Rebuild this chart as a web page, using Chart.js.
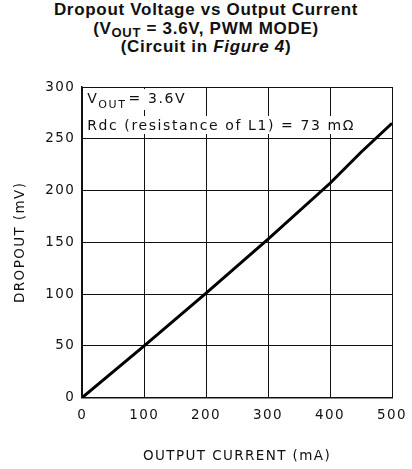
<!DOCTYPE html>
<html>
<head>
    <title>Dropout Voltage vs Output Current</title>
    <script src="https://cdn.jsdelivr.net/npm/chart.js"></script>
    <style>
        body {
            margin: 0;
            background: white;
        }
        .wrap {
            position: relative;
            width: 412px;
            height: 469px;
        }
        .title {
            position: absolute;
            left: 0;
            top: 1px;
            width: 412px;
            text-align: center;
            font-family: "Liberation Sans", Arial, sans-serif;
            font-weight: bold;
            font-size: 17px;
            letter-spacing: 0.7px;
            line-height: 18.5px;
            color: #111;
        }
        .title sub {
            font-size: 13px;
            vertical-align: -3px;
            line-height: 0;
        }
        canvas {
            position: absolute;
            left: 0;
            top: 0;
        }
    </style>
</head>
<body>
    <div class="wrap">
        <div class="title">
            Dropout Voltage vs Output Current<br>
            (V<sub>OUT</sub> = 3.6V, PWM MODE)<br>
            (Circuit in <i>Figure 4</i>)
        </div>
        <canvas id="dropChart" width="412" height="469"></canvas>
    </div>

    <script>
        // values
        const currentMA = [0, 100, 200, 300, 400, 450, 500];
        const dropoutMV = [0, 50, 101, 153, 207, 237, 265];
        const xTicks = [0, 100, 200, 300, 400, 500];
        const yTicks = [0, 50, 100, 150, 200, 250, 300];

        const FONT = "'DejaVu Sans', sans-serif";
        const axisFont = { family: FONT, size: 13.5 };

        // the plotter font is widely spaced, so stretch the canvas text a little
        const spacing = {
            id: 'spacing',
            beforeLayout(chart) { chart.ctx.letterSpacing = '1.4px'; },
            beforeDraw(chart) { chart.ctx.letterSpacing = '1.4px'; }
        };

        // the two lines of notes in the top left corner of the plot
        const notePlugin = {
            id: 'notes',
            beforeDatasetsDraw(chart) {
                const ctx = chart.ctx;
                const a = chart.chartArea;
                ctx.save();
                ctx.letterSpacing = '1.6px';
                ctx.textBaseline = 'alphabetic';
                ctx.font = '14px ' + FONT;

                let x = a.left + 5;
                let y = a.top + 16;
                ctx.fillStyle = 'white';
                ctx.fillRect(x - 1, y - 14, 92, 21);
                ctx.fillStyle = '#111';
                ctx.fillText('V', x, y);
                x += ctx.measureText('V').width;
                ctx.font = '11px ' + FONT;
                ctx.fillText('OUT', x, y + 5);
                x += ctx.measureText('OUT').width + 2;
                ctx.font = '14px ' + FONT;
                ctx.fillText('= 3.6V', x, y);

                const line2 = 'Rdc (resistance of L1) = 73 m\u03A9';
                x = a.left + 5;
                y = a.top + 43;
                const w = ctx.measureText(line2).width;
                ctx.fillStyle = 'white';
                ctx.fillRect(x - 1, y - 14, w + 4, 18);
                ctx.fillStyle = '#111';
                ctx.fillText(line2, x, y);
                ctx.restore();
            }
        };

        new Chart(document.getElementById('dropChart'), {
            type: 'line',
            data: {
                labels: currentMA,
                datasets: [{
                    data: currentMA.map((c, i) => ({ x: c, y: dropoutMV[i] })),
                    borderColor: '#000',
                    borderWidth: 3,
                    pointRadius: 0,
                    tension: 0,
                    fill: false
                }]
            },
            options: {
                responsive: false,
                animation: false,
                layout: { padding: { top: 87, right: 20, left: 8, bottom: 0 } },
                plugins: {
                    legend: { display: false },
                    tooltip: { enabled: false }
                },
                scales: {
                    x: {
                        type: 'linear',
                        min: 0,
                        max: 500,
                        afterBuildTicks: axis => { axis.ticks = xTicks.map(v => ({ value: v })); },
                        afterFit: axis => { axis.paddingRight = 0; },
                        grid: { color: '#111', lineWidth: 1, drawTicks: false },
                        border: { color: '#111', width: 1.5 },
                        ticks: { color: '#111', font: axisFont, padding: 10 },
                        title: { display: true, text: 'OUTPUT CURRENT (mA)', color: '#111', font: axisFont, padding: { top: 15 } }
                    },
                    y: {
                        min: 0,
                        max: 300,
                        afterBuildTicks: axis => { axis.ticks = yTicks.map(v => ({ value: v })); },
                        grid: { color: '#111', lineWidth: 1, drawTicks: false },
                        border: { color: '#111', width: 1.5 },
                        ticks: { color: '#111', font: axisFont, padding: 7 },
                        title: { display: true, text: 'DROPOUT (mV)', color: '#111', font: axisFont, padding: { bottom: 10 } }
                    }
                }
            },
            plugins: [spacing, notePlugin]
        });
    </script>
</body>
</html>
